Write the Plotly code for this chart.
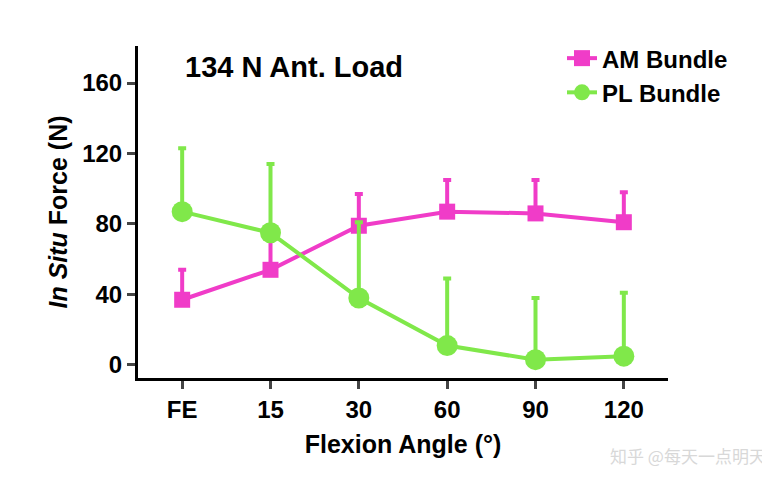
import plotly.graph_objects as go

cats = ["FE", "15", "30", "60", "90", "120"]
am = [37, 54, 79, 87, 86, 81]
am_err = [17, 17, 18, 18, 19, 17]
pl = [87, 75, 38, 11, 3, 5]
pl_err = [36, 39, 43, 38, 35, 36]

F = "Liberation Sans, Arial, sans-serif"
fig = go.Figure()
fig.add_trace(go.Scatter(x=list(range(6)), y=am, name="AM Bundle", mode="lines+markers",
    line=dict(color="#f03cc8", width=4), marker=dict(symbol="square", size=16, color="#f03cc8"),
    error_y=dict(type="data", array=am_err, arrayminus=[0]*6, color="#f03cc8", thickness=4, width=4)))
fig.add_trace(go.Scatter(x=list(range(6)), y=pl, name="PL Bundle", mode="lines+markers",
    line=dict(color="#80e84a", width=4), marker=dict(symbol="circle", size=21, color="#80e84a"),
    error_y=dict(type="data", array=pl_err, arrayminus=[0]*6, color="#80e84a", thickness=4, width=4)))
fig.update_layout(
    width=770, height=483, margin=dict(l=130, r=110, t=38, b=113),
    plot_bgcolor="white", paper_bgcolor="white",
    font=dict(family=F, size=22, color="black", weight="bold"),
    legend=dict(x=0.8, y=1.03, xanchor="left", yanchor="top",
                font=dict(size=24, family=F, weight="bold"), bgcolor="rgba(0,0,0,0)"),
    xaxis=dict(tickmode="array", tickvals=list(range(6)), ticktext=cats, range=[-0.5, 5.5],
               showline=True, linecolor="black", linewidth=3, ticks="outside", ticklen=8, tickwidth=3,
               showgrid=False, zeroline=False,
               title=dict(text="Flexion Angle (°)", font=dict(size=25, weight="bold"), standoff=14),
               tickfont=dict(size=24, weight="bold")),
    yaxis=dict(range=[-7.4, 181], tickvals=[0, 40, 80, 120, 160], showline=True, linecolor="black",
               linewidth=3, ticks="outside", ticklen=8, tickwidth=3, showgrid=False, zeroline=False,
               title=dict(text="<i>In Situ</i> Force (N)", font=dict(size=25, weight="bold"), standoff=8),
               tickfont=dict(size=24, weight="bold")),
    annotations=[
        dict(text="134 N Ant. Load", x=0.0, y=0.99, xref="paper", yref="paper",
             xanchor="left", yanchor="top", showarrow=False,
             font=dict(size=29, weight="bold"), xshift=45),
        dict(text="知乎 @每天一点明天", x=1.0, y=0, xref="paper", yref="paper", xanchor="right",
             yanchor="bottom", yshift=-92, xshift=100, showarrow=False,
             font=dict(size=17, color="#d8d8d8", family="Noto Sans CJK SC", weight="normal")),
    ],
)
fig.write_html("out.html")
